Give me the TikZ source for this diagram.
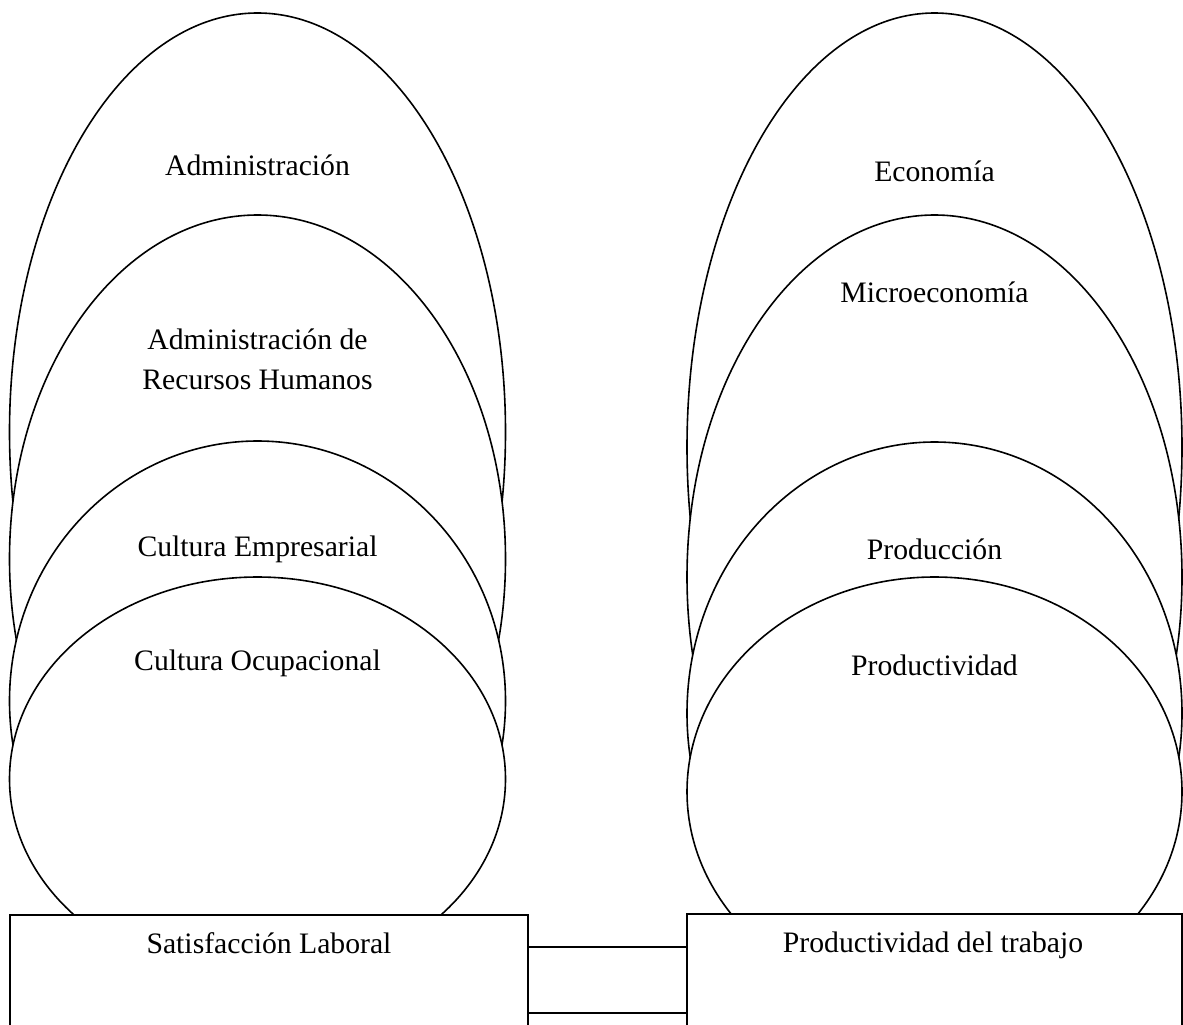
\documentclass[tikz,border=0pt]{standalone}
\usepackage{fontspec}
\setmainfont{Liberation Serif}
\begin{document}
\begin{tikzpicture}[x=0.5pt,y=-0.5pt,
  oval/.style={draw=black,fill=white,line width=0.8pt},
  boxnode/.style={draw=black,fill=white,line width=0.8pt,rectangle,inner sep=0pt},
  lbl/.style={inner sep=0pt,font=\fontsize{14.85pt}{19.75pt}\selectfont,align=center,anchor=base},
  link/.style={draw=black,line width=0.8pt}]
\useasboundingbox (0,0) rectangle (1183,1024);
\clip (0,0) rectangle (1183,1024);
% left group
\draw[oval] (257.5,432) ellipse [x radius=248, y radius=419];
\draw[oval] (257.5,559) ellipse [x radius=248, y radius=344];
\draw[oval] (257.5,701) ellipse [x radius=248, y radius=260];
\draw[oval] (257.5,779) ellipse [x radius=248, y radius=202];
% right group
\draw[oval] (934.5,447.2) ellipse [x radius=247.5, y radius=434.2];
\draw[oval] (934.5,577.1) ellipse [x radius=247.5, y radius=362.1];
\draw[oval] (934.5,713.3) ellipse [x radius=247.5, y radius=271.3];
\draw[oval] (934.5,791.6) ellipse [x radius=247.5, y radius=214.6];
% labels
\node[lbl] (adm) at (257.5,175) {Administración};
\node[lbl] (arh) at (257.5,389) {Administración de\\Recursos Humanos};
\node[lbl] (cem) at (257.5,556) {Cultura Empresarial};
\node[lbl] (coc) at (257.5,670) {Cultura Ocupacional};
\node[lbl] (eco) at (934.5,181) {Economía};
\node[lbl] (mic) at (934.5,302) {Microeconomía};
\node[lbl] (pro) at (934.5,559) {Producción};
\node[lbl] (ptd) at (934.5,675) {Productividad};
% boxes
\node[boxnode,minimum width=259pt,minimum height=80pt] (sl) at (269,995) {};
\node[boxnode,minimum width=247.5pt,minimum height=80.5pt] (pt) at (934.5,994.5) {};
\node[lbl] (slt) at (269,953) {Satisfacción Laboral};
\node[lbl] (ptt) at (933,952) {Productividad del trabajo};
% connectors
\coordinate (c1) at (600,947);
\coordinate (c2) at (600,1013);
\draw[link] (sl.east |- c1) -- (pt.west |- c1);
\draw[link] (sl.east |- c2) -- (pt.west |- c2);
\end{tikzpicture}
\end{document}
